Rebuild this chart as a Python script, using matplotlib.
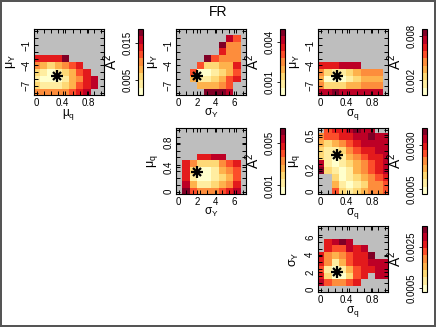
import numpy as np
import matplotlib
matplotlib.use("Agg")
import matplotlib.pyplot as plt
from matplotlib.colors import ListedColormap, Normalize
from matplotlib.cm import ScalarMappable

plt.rcParams["font.family"] = ["Liberation Sans", "DejaVu Sans"]
plt.rcParams["mathtext.fontset"] = "custom"
plt.rcParams["mathtext.rm"] = "Liberation Sans"
plt.rcParams["mathtext.it"] = "Liberation Sans"

n = np.nan

# parameter grids (cell centres)
mu_q = [0, 0.11, 0.22, 0.33, 0.44, 0.56, 0.67, 0.78, 0.89, 1.0]
mu_q_low = [0, 0.06, 0.12, 0.18, 0.24, 0.30, 0.36, 0.42, 0.48, 0.54]
mu_Y = [-8, -7, -6, -5, -4, -3, -2, -1, 0, 1]
sigma_Y = [0, 0.78, 1.56, 2.33, 3.11, 3.89, 4.67, 5.44, 6.22, 7.0]
sigma_q = [0, 0.11, 0.22, 0.33, 0.44, 0.56, 0.67, 0.78, 0.89, 1.0]

# true parameter values (asterisks)
true_mu_q = 0.32
true_mu_Y = -5.55
true_sigma_Y = 2.0
true_sigma_q = 0.25

# A^2 values (x 1e-3), rows written from top (largest y) to bottom
A2_muq_muY = [
    [n, n, n, n, n, n, n, n, n, n],
    [n, n, n, n, n, n, n, n, n, n],
    [n, n, n, n, n, n, n, n, n, n],
    [n, n, n, n, n, n, n, n, n, n],
    [13.7, 13.7, 13.7, 14.5, 17.6, n, n, n, n, n],
    [9.8, 7.8, 5.9, 7.8, 9.8, 11.8, 13.7, n, n, n],
    [5.9, 3.9, 2.0, 3.9, 5.9, 7.8, 11.8, 13.7, n, n],
    [3.9, 2.0, 2.0, 2.0, 3.9, 7.8, 9.8, 13.7, 15.7, n],
    [5.9, 3.9, 3.9, 3.9, 5.9, 7.8, 11.8, 13.7, 15.7, n],
    [9.8, 9.8, 9.8, 9.8, 9.8, 11.8, 13.7, 15.7, n, n],
]
A2_sigY_muY = [
    [n, n, n, n, n, n, n, n, n, n],
    [n, n, n, n, n, n, n, 4.17, 3.06, n],
    [n, n, n, n, n, n, 4.72, 2.50, 2.50, n],
    [n, n, n, n, n, n, 3.61, 2.50, 2.50, n],
    [n, n, n, n, 4.72, 3.06, 2.50, 2.50, 2.50, n],
    [n, n, n, 3.06, 1.39, 1.39, 1.94, 1.94, 3.61, n],
    [n, n, 3.06, 0.28, 0.28, 0.83, 1.39, 1.94, 3.06, n],
    [n, n, 1.94, 0.83, 0.83, 1.39, 1.94, 3.06, 3.61, n],
    [n, n, n, 1.94, 1.94, 1.94, 2.50, 3.06, n, n],
    [n, n, n, n, 4.72, 4.72, 4.72, 4.17, n, n],
]
A2_sigq_muY = [
    [n, n, n, n, n, n, n, n, n, n],
    [n, n, n, n, n, n, n, n, n, n],
    [n, n, n, n, n, n, n, n, n, n],
    [n, n, n, n, n, n, n, n, n, n],
    [n, n, n, n, n, n, n, n, n, n],
    [6.5, 6.5, 6.5, 7.5, 7.5, 7.5, n, n, n, n],
    [4.5, 2.5, 1.5, 1.5, 2.5, 3.5, 4.5, 4.5, 4.5, n],
    [3.5, 0.5, 0.5, 0.5, 1.5, 2.5, 3.5, 3.5, 3.5, n],
    [4.5, 2.5, 2.5, 2.5, 3.5, 3.5, 4.5, 4.5, 4.5, n],
    [7.5, 7.5, 8.5, 7.5, 7.5, 7.5, 7.5, 7.5, 7.5, n],
]
A2_sigY_muq = [
    [n, n, n, n, n, n, n, n, n, n],
    [n, n, n, n, n, n, n, n, n, n],
    [n, n, n, n, n, n, n, n, n, n],
    [n, n, n, n, n, n, n, n, n, n],
    [n, n, n, 4.68, 4.68, 5.37, 5.37, n, n, n],
    [n, 4.68, 3.30, 1.92, 1.92, 1.92, 3.30, 3.99, 4.68, n],
    [n, 4.68, 1.92, 0.54, 0.54, 1.23, 2.61, 3.30, 3.99, n],
    [n, 4.68, 1.23, 0.54, 0.54, 1.23, 1.92, 2.61, 3.99, n],
    [n, 5.37, 2.61, 1.23, 1.23, 1.92, 2.61, 3.30, 4.68, n],
    [n, 6.06, 3.99, 3.30, 3.30, 3.30, 3.99, 4.68, 5.37, n],
]
A2_sigq_muq = [
    [n, 2.52, 2.94, 2.94, 3.37, 3.79, 3.37, 3.37, n, n],
    [2.10, 2.52, 2.52, 2.94, 2.94, 3.37, 3.37, 3.79, 3.37, 3.37],
    [1.68, 1.26, 1.68, 2.10, 2.52, 2.94, 3.37, 3.37, 3.37, 3.37],
    [1.26, 0.83, 0.83, 1.26, 2.10, 2.52, 2.94, 2.94, 3.37, 3.37],
    [1.26, 0.83, 0.41, 0.83, 1.68, 2.10, 2.52, 2.94, 2.94, 3.37],
    [3.37, 0.83, 0.41, 0.83, 1.26, 1.68, 2.10, 2.52, 2.94, 3.37],
    [3.79, 1.26, 0.83, 0.41, 0.83, 1.68, 2.10, 2.52, 2.94, 3.37],
    [n, n, 1.26, 0.41, 0.83, 1.26, 1.68, 2.10, 2.52, 2.94],
    [n, n, 1.68, 0.83, 0.41, 0.83, 1.26, 2.10, 2.10, 2.52],
    [n, n, 2.52, 1.26, 0.83, 1.26, 1.68, 2.10, 2.10, 2.52],
]
A2_sigq_sigY = [
    [n, n, n, n, n, n, n, n, n, n],
    [n, n, n, n, n, n, n, n, n, n],
    [n, 2.61, 2.97, 3.32, 2.97, n, n, n, n, n],
    [n, 2.61, 2.26, 2.26, 2.97, 2.61, 2.97, n, n, n],
    [2.61, 1.90, 1.54, 1.90, 2.26, 2.61, 2.61, 3.32, n, n],
    [2.61, 1.90, 0.83, 1.54, 2.26, 2.61, 2.61, 2.97, 2.97, 2.97],
    [2.26, 0.83, 0.48, 0.83, 1.54, 2.26, 2.61, 2.61, 2.97, 2.97],
    [2.61, 1.19, 0.48, 0.48, 1.19, 2.26, 2.61, n, 2.97, 2.97],
    [2.97, 2.26, 1.90, 1.90, 2.26, 2.61, n, n, n, n],
    [n, n, n, n, n, n, n, n, n, n],
]

cmap = ListedColormap(["#ffffcc", "#ffeda0", "#fed976", "#feb24c", "#fd8d3c",
                       "#fc4e2a", "#e31a1c", "#bd0026", "#800026"])

lab_muq = "μ$_\\mathrm{q}$"
lab_muY = "μ$_\\mathrm{Y}$"
lab_sigY = "σ$_\\mathrm{Y}$"
lab_sigq = "σ$_\\mathrm{q}$"

# (row, col, x, y, Z, xlabel, ylabel, xticks, xticklabels, yticks, yticklabels,
#  vmin, vmax, cbar ticks, cbar labels, true x, true y)
panels = [
    (0, 0, mu_q, mu_Y, A2_muq_muY, lab_muq, lab_muY, [0, 0.4, 0.8], ["0", "0.4", "0.8"],
     [-7, -4, -1], ["−7", "−4", "−1"], 1.0, 18.6, [5, 15], ["0.005", "0.015"],
     true_mu_q, true_mu_Y),
    (0, 1, sigma_Y, mu_Y, A2_sigY_muY, lab_sigY, lab_muY, [0, 2, 4, 6], ["0", "2", "4", "6"],
     [-7, -4, -1], ["−7", "−4", "−1"], 0.0, 5.0, [1, 4], ["0.001", "0.004"],
     true_sigma_Y, true_mu_Y),
    (0, 2, sigma_q, mu_Y, A2_sigq_muY, lab_sigq, lab_muY, [0, 0.4, 0.8], ["0", "0.4", "0.8"],
     [-7, -4, -1], ["−7", "−4", "−1"], 0.0, 9.0, [2, 8], ["0.002", "0.008"],
     true_sigma_q, true_mu_Y),
    (1, 1, sigma_Y, mu_q, A2_sigY_muq, lab_sigY, lab_muq, [0, 2, 4, 6], ["0", "2", "4", "6"],
     [0, 0.4, 0.8], ["0", "0.4", "0.8"], 0.2, 6.4, [1, 5], ["0.001", "0.005"],
     true_sigma_Y, true_mu_q),
    (1, 2, sigma_q, mu_q_low, A2_sigq_muq, lab_sigq, lab_muq, [0, 0.4, 0.8], ["0", "0.4", "0.8"],
     [0, 0.2, 0.5], ["0", "0.2", "0.5"], 0.2, 4.0, [0.5, 3.0], ["0.0005", "0.0030"],
     true_sigma_q, true_mu_q),
    (2, 2, sigma_q, sigma_Y, A2_sigq_sigY, lab_sigq, lab_sigY, [0, 0.4, 0.8], ["0", "0.4", "0.8"],
     [0, 2, 4, 6], ["0", "2", "4", "6"], 0.3, 3.5, [0.5, 2.5], ["0.0005", "0.0025"],
     true_sigma_q, true_sigma_Y),
]

W, H = 436, 327
col_left = [34, 176, 318]
cbar_left = [138, 280, 422]
row_top = [29, 128, 226]
aw, ah = 70, 66

fig = plt.figure(figsize=(W / 100, H / 100), dpi=100, facecolor="white",
                 edgecolor="#555555", linewidth=1.5)


def frac(l, t, w, h):
    return [l / W, 1 - (t + h) / H, w / W, h / H]


for (r, c, xs, ys, Z, xl, yl, xt, xtl, yt, ytl, vmin, vmax, cbt, cbl, tx, ty) in panels:
    ax = fig.add_axes(frac(col_left[c], row_top[r], aw, ah))
    ax.set_facecolor("#bebebe")
    xs = np.array(xs, float)
    ys = np.array(ys, float)
    Z = np.array(Z, float)
    dx = xs[1] - xs[0]
    dy = ys[1] - ys[0]
    norm = Normalize(vmin, vmax)
    ax.imshow(np.ma.masked_invalid(Z), cmap=cmap, norm=norm, origin="upper",
              extent=[xs[0] - dx / 2, xs[-1] + dx / 2, ys[0] - dy / 2, ys[-1] + dy / 2],
              aspect="auto", interpolation="nearest")
    xr = xs[-1] - xs[0]
    yr = ys[-1] - ys[0]
    ax.set_xlim(xs[0] - 0.04 * xr, xs[-1] + 0.04 * xr)
    ax.set_ylim(ys[0] - 0.04 * yr, ys[-1] + 0.04 * yr)
    ax.plot(tx, ty, marker="+", ms=8, mew=1.6, color="black")
    ax.plot(tx, ty, marker="x", ms=6, mew=1.6, color="black")

    ax.set_xticks(xt)
    ax.set_xticklabels(xtl)
    ax.set_yticks(yt)
    ax.set_yticklabels(ytl, rotation=90, va="center")
    ax.set_xticks(xs, minor=True)
    ax.set_yticks(ys, minor=True)
    ax.tick_params(which="both", direction="in", top=True, right=True,
                   length=3, width=0.7, labelsize=7, pad=2)
    for s in ax.spines.values():
        s.set_linewidth(0.8)
    ax.set_xlabel(xl, fontsize=8.5, va="top")
    ax.set_ylabel(yl, fontsize=9, va="center")
    ax.xaxis.set_label_coords(0.5, -0.185)
    ax.yaxis.set_label_coords(-0.33, 0.5)

    cax = fig.add_axes(frac(cbar_left[c], row_top[r], 5, ah))
    sm = ScalarMappable(norm=norm, cmap=cmap)
    cb = fig.colorbar(sm, cax=cax)
    cb.outline.set_linewidth(0.8)
    cb.set_ticks(cbt)
    cb.set_ticklabels(cbl)
    cax.yaxis.set_ticks_position("left")
    cax.yaxis.set_label_position("left")
    cax.tick_params(labelsize=7, length=2, width=0.6, pad=2)
    for lab in cax.get_yticklabels():
        lab.set_rotation(90)
        lab.set_va("center")
    cb.set_label("A$^2$", fontsize=10, labelpad=2)

fig.text(0.5, 1 - 12 / H, "FR", ha="center", va="center", fontsize=10)

fig.savefig("out.png", dpi=100)
